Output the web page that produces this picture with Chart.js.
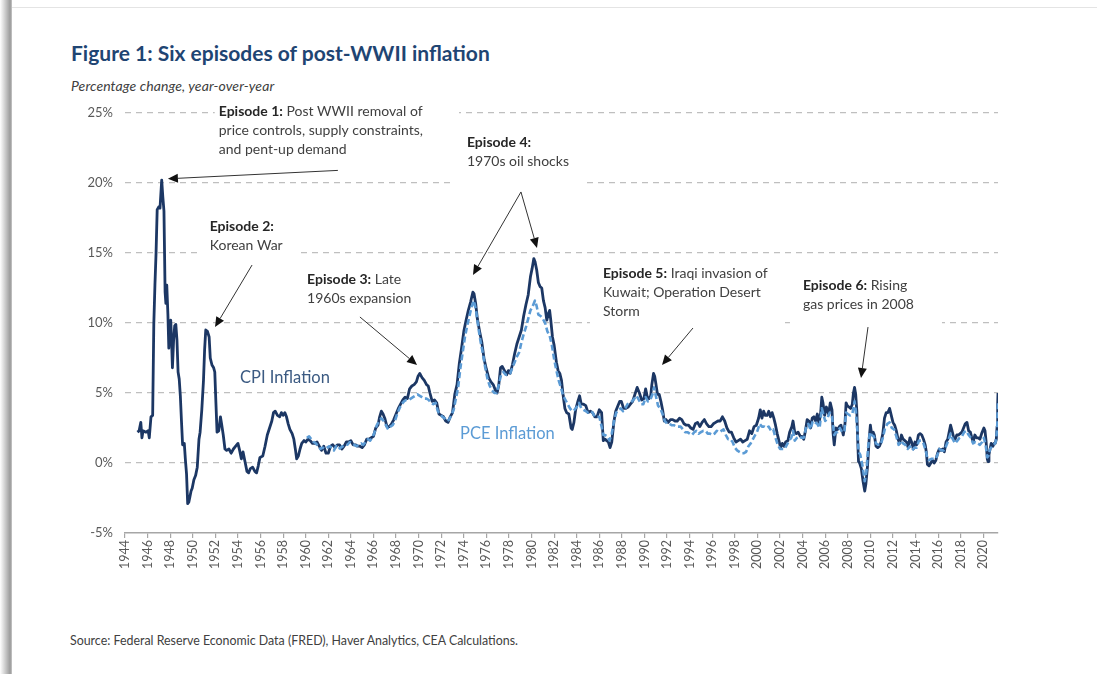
<!DOCTYPE html>
<html>
<head>
<meta charset="utf-8">
<script src="https://cdn.jsdelivr.net/npm/chart.js@4.4.0/dist/chart.umd.min.js"></script>
<style>
  html, body { margin: 0; padding: 0; background: #fff; }
  body { width: 1097px; height: 674px; position: relative; overflow: hidden; font-family: Lato, "Open Sans", sans-serif; }
  .edge { position: absolute; left: 0; top: 0; width: 12px; height: 674px; background: linear-gradient(to right, #fff 0%, #d0d0d0 40%, #9a9a9a 85%, #c8c8c8 100%); }
  .topedge { position: absolute; left: 12px; top: 7px; right: 0; height: 1px; background: #e4e4e4; }
  #title { position: absolute; left: 71px; top: 40px; font-size: 21px; font-weight: 700; color: #1f4573; white-space: nowrap; letter-spacing: 0px; }
  #subtitle { position: absolute; left: 71px; top: 77px; font-size: 14px; font-style: italic; color: #404040; white-space: nowrap; letter-spacing: 0.1px; }
  #source { position: absolute; left: 70px; top: 633px; font-size: 12.4px; color: #404040; white-space: nowrap; }
  canvas { position: absolute; left: 0; top: 0; }
</style>
</head>
<body>
<div class="edge"></div>
<div class="topedge"></div>
<div id="title">Figure 1: Six episodes of post-WWII inflation</div>
<div id="subtitle">Percentage change, year-over-year</div>
<div id="source">Source: Federal Reserve Economic Data (FRED), Haver Analytics, CEA Calculations.</div>
<canvas id="chart" width="1097" height="674"></canvas>
<script>
// ---- data ----
const xTickYears = [1944, 1946, 1948, 1950, 1952, 1954, 1956, 1958, 1960, 1962, 1964, 1966, 1968, 1970,
    1972, 1974, 1976, 1978, 1980, 1982, 1984, 1986, 1988, 1990, 1992, 1994, 1996, 1998, 2000, 2002,
    2004, 2006, 2008, 2010, 2012, 2014, 2016, 2018, 2020];
const yTickValues = [-5, 0, 5, 10, 15, 20, 25];

// CPI inflation, % y/y
const cpiDates = [
    1945.1, 1945.25, 1945.4, 1945.5, 1945.6, 1945.85, 1946.05, 1946.15, 1946.3, 1946.45,
    1946.55, 1946.65, 1946.75, 1946.85, 1947.0, 1947.1, 1947.25, 1947.35, 1947.45, 1947.55,
    1947.62, 1947.7, 1947.8, 1947.88, 1947.95, 1948.05, 1948.12, 1948.2, 1948.3, 1948.4,
    1948.5, 1948.6, 1948.7, 1948.8, 1948.9, 1949.0, 1949.1, 1949.25, 1949.35, 1949.45,
    1949.55, 1949.65, 1949.75, 1949.85, 1949.95, 1950.1, 1950.25, 1950.4, 1950.55, 1950.65,
    1950.8, 1950.95, 1951.05, 1951.15, 1951.3, 1951.45, 1951.55, 1951.7, 1951.85, 1951.95,
    1952.05, 1952.15, 1952.3, 1952.45, 1952.55, 1952.7, 1952.85, 1953.0, 1953.2, 1953.4,
    1953.6, 1953.8, 1954.0, 1954.15, 1954.3, 1954.45, 1954.6, 1954.8, 1954.95, 1955.1,
    1955.3, 1955.5, 1955.65, 1955.8, 1955.95, 1956.2, 1956.4, 1956.6, 1956.8, 1957.0,
    1957.15, 1957.3, 1957.5, 1957.7, 1957.85, 1958.0, 1958.15, 1958.3, 1958.45, 1958.6,
    1958.8, 1958.95, 1959.1, 1959.2, 1959.35, 1959.5, 1959.65, 1959.85, 1960.0, 1960.2,
    1960.4, 1960.6, 1960.8, 1961.0, 1961.2, 1961.4, 1961.6, 1961.8, 1962.0, 1962.2,
    1962.4, 1962.6, 1962.8, 1963.0, 1963.2, 1963.4, 1963.6, 1963.8, 1964.0, 1964.2,
    1964.4, 1964.6, 1964.8, 1965.0, 1965.2, 1965.4, 1965.6, 1965.8, 1966.0, 1966.2,
    1966.4, 1966.55, 1966.7, 1966.85, 1967.0, 1967.2, 1967.4, 1967.6, 1967.8, 1968.0,
    1968.2, 1968.4, 1968.6, 1968.8, 1969.0, 1969.2, 1969.4, 1969.6, 1969.8, 1969.95,
    1970.1, 1970.3, 1970.5, 1970.7, 1970.85, 1971.0, 1971.2, 1971.4, 1971.6, 1971.8,
    1972.0, 1972.2, 1972.4, 1972.6, 1972.8, 1973.0, 1973.2, 1973.4, 1973.6, 1973.8,
    1974.0, 1974.2, 1974.4, 1974.6, 1974.8, 1974.9, 1975.05, 1975.2, 1975.4, 1975.6,
    1975.8, 1976.0, 1976.2, 1976.4, 1976.6, 1976.8, 1976.95, 1977.1, 1977.25, 1977.4,
    1977.6, 1977.8, 1977.95, 1978.1, 1978.3, 1978.5, 1978.7, 1978.9, 1979.1, 1979.3,
    1979.5, 1979.7, 1979.9, 1980.05, 1980.2, 1980.3, 1980.45, 1980.6, 1980.75, 1980.9,
    1981.05, 1981.2, 1981.35, 1981.5, 1981.6, 1981.7, 1981.85, 1982.0, 1982.2, 1982.35,
    1982.5, 1982.65, 1982.8, 1982.95, 1983.1, 1983.3, 1983.5, 1983.6, 1983.75, 1983.9,
    1984.1, 1984.25, 1984.4, 1984.6, 1984.8, 1985.0, 1985.2, 1985.4, 1985.6, 1985.8,
    1986.0, 1986.2, 1986.35, 1986.5, 1986.65, 1986.8, 1986.95, 1987.1, 1987.3, 1987.45,
    1987.6, 1987.8, 1987.95, 1988.15, 1988.35, 1988.55, 1988.75, 1988.95, 1989.15, 1989.35,
    1989.55, 1989.75, 1989.95, 1990.1, 1990.25, 1990.4, 1990.55, 1990.65, 1990.8, 1990.9,
    1991.0, 1991.15, 1991.3, 1991.45, 1991.6, 1991.75, 1991.9, 1992.1, 1992.3, 1992.5,
    1992.7, 1992.9, 1993.1, 1993.3, 1993.5, 1993.7, 1993.9, 1994.1, 1994.3, 1994.5,
    1994.7, 1994.9, 1995.1, 1995.3, 1995.5, 1995.7, 1995.9, 1996.1, 1996.3, 1996.5,
    1996.7, 1996.9, 1997.1, 1997.3, 1997.5, 1997.7, 1997.9, 1998.1, 1998.3, 1998.5,
    1998.7, 1998.9, 1999.1, 1999.3, 1999.5, 1999.7, 1999.9, 2000.1, 2000.25, 2000.4,
    2000.55, 2000.7, 2000.85, 2001.0, 2001.15, 2001.3, 2001.45, 2001.6, 2001.75, 2001.9,
    2002.05, 2002.2, 2002.35, 2002.5, 2002.7, 2002.85, 2003.05, 2003.15, 2003.3, 2003.45,
    2003.6, 2003.8, 2003.95, 2004.1, 2004.25, 2004.4, 2004.55, 2004.7, 2004.85, 2005.0,
    2005.15, 2005.3, 2005.45, 2005.6, 2005.7, 2005.8, 2005.95, 2006.1, 2006.3, 2006.45,
    2006.6, 2006.7, 2006.8, 2006.95, 2007.1, 2007.25, 2007.4, 2007.6, 2007.75, 2007.85,
    2007.95, 2008.1, 2008.25, 2008.4, 2008.5, 2008.6, 2008.7, 2008.8, 2008.9, 2008.95,
    2009.05, 2009.2, 2009.35, 2009.5, 2009.6, 2009.75, 2009.9, 2010.0, 2010.1, 2010.25,
    2010.35, 2010.5, 2010.65, 2010.8, 2010.95, 2011.1, 2011.25, 2011.4, 2011.55, 2011.7,
    2011.85, 2012.0, 2012.15, 2012.3, 2012.45, 2012.6, 2012.75, 2012.9, 2013.05, 2013.2,
    2013.35, 2013.5, 2013.65, 2013.8, 2013.95, 2014.1, 2014.25, 2014.4, 2014.55, 2014.7,
    2014.85, 2014.95, 2015.05, 2015.2, 2015.35, 2015.5, 2015.65, 2015.8, 2015.95, 2016.1,
    2016.25, 2016.4, 2016.55, 2016.7, 2016.85, 2016.95, 2017.1, 2017.2, 2017.35, 2017.5,
    2017.65, 2017.8, 2017.95, 2018.1, 2018.25, 2018.4, 2018.55, 2018.7, 2018.85, 2018.95,
    2019.1, 2019.25, 2019.4, 2019.55, 2019.7, 2019.85, 2019.95, 2020.05, 2020.15, 2020.25,
    2020.35, 2020.42, 2020.5, 2020.6, 2020.7, 2020.85, 2020.95, 2021.05, 2021.15, 2021.22,
    2021.27, 2021.3
];
const cpiValues = [
    2.2, 2.3, 2.9, 1.8, 2.3, 2.2, 2.3, 1.8, 3.3, 3.4,
    9.9, 12.7, 15.0, 18.1, 18.3, 18.2, 20.2, 19.0, 18.0, 12.2,
    11.4, 12.7, 10.6, 8.2, 9.6, 10.2, 8.8, 6.8, 8.7, 9.8,
    9.9, 8.8, 6.5, 6.0, 4.8, 3.0, 1.3, 1.4, 0.2, -0.8,
    -2.9, -2.8, -2.4, -2.0, -1.8, -1.2, -0.9, -0.3, 1.7, 2.2,
    3.8, 5.9, 8.1, 9.5, 9.4, 9.0, 7.5, 7.0, 6.8, 6.5,
    4.3, 2.2, 2.3, 3.3, 2.8, 2.0, 1.0, 0.9, 1.0, 0.7,
    1.0, 1.2, 1.4, 0.9, 0.3, 0.8, 0.2, -0.6, -0.7, -0.4,
    -0.3, -0.6, -0.7, -0.2, 0.4, 0.5, 1.2, 2.0, 2.5, 3.0,
    3.6, 3.7, 3.4, 3.3, 3.6, 3.4, 3.6, 3.3, 2.8, 2.4,
    2.1, 1.7, 0.9, 0.3, 0.5, 1.0, 1.4, 1.6, 1.5, 1.7,
    1.6, 1.4, 1.4, 1.5, 1.2, 0.9, 1.2, 0.7, 0.7, 1.2,
    1.3, 1.1, 1.3, 1.3, 1.0, 1.2, 1.5, 1.5, 1.6, 1.3,
    1.3, 1.2, 1.2, 1.1, 1.3, 1.7, 1.7, 1.8, 1.9, 2.5,
    2.7, 3.3, 3.7, 3.5, 3.2, 2.6, 2.6, 2.8, 3.1, 3.5,
    3.9, 4.2, 4.5, 4.7, 4.6, 5.3, 5.5, 5.6, 5.8, 6.2,
    6.4, 6.1, 5.9, 5.6, 5.5, 5.0, 4.4, 4.5, 4.3, 3.5,
    3.4, 3.3, 3.0, 2.9, 3.3, 3.6, 4.9, 5.6, 7.1, 8.2,
    9.4, 10.2, 10.9, 11.5, 12.2, 12.1, 11.4, 10.3, 9.4, 8.6,
    7.4, 6.7, 6.1, 5.8, 5.6, 5.2, 5.0, 5.6, 6.8, 6.9,
    6.6, 6.3, 6.6, 6.4, 7.0, 7.8, 8.5, 9.0, 9.5, 10.5,
    11.3, 12.0, 13.3, 13.9, 14.6, 14.4, 13.8, 12.9, 12.6, 12.5,
    11.6, 11.1, 10.2, 10.7, 10.9, 10.2, 9.0, 8.4, 7.2, 6.6,
    6.4, 5.9, 4.8, 3.9, 3.6, 3.5, 2.5, 2.4, 2.9, 3.8,
    4.4, 4.8, 4.2, 4.2, 4.1, 3.6, 3.7, 3.6, 3.3, 3.3,
    3.8, 3.6, 1.6, 1.7, 1.6, 1.5, 1.1, 1.5, 3.0, 3.7,
    4.0, 4.4, 4.4, 3.9, 3.9, 4.0, 4.2, 4.4, 4.9, 5.4,
    5.0, 4.5, 4.6, 5.3, 4.7, 4.6, 4.8, 5.6, 6.4, 6.2,
    5.7, 4.9, 4.9, 4.4, 3.8, 3.0, 3.1, 2.9, 3.1, 3.1,
    3.0, 3.0, 3.2, 3.1, 2.8, 2.7, 2.7, 2.5, 2.4, 2.8,
    2.9, 2.6, 2.9, 3.1, 2.8, 2.6, 2.6, 2.8, 2.9, 3.0,
    3.0, 3.3, 3.0, 2.5, 2.2, 2.2, 1.8, 1.5, 1.6, 1.7,
    1.5, 1.6, 1.7, 2.3, 2.1, 2.6, 2.7, 3.2, 3.8, 3.2,
    3.7, 3.4, 3.4, 3.7, 3.3, 3.6, 3.2, 2.7, 2.1, 1.6,
    1.1, 1.4, 1.2, 1.5, 1.6, 2.2, 2.6, 3.0, 2.2, 2.1,
    2.2, 1.9, 1.9, 1.7, 2.3, 3.1, 3.0, 2.5, 3.2, 3.3,
    3.0, 3.5, 2.8, 3.6, 4.7, 4.3, 3.4, 4.0, 3.5, 4.3,
    3.8, 2.1, 1.3, 2.5, 2.4, 2.6, 2.7, 2.0, 2.8, 4.3,
    4.1, 4.0, 3.9, 4.2, 5.0, 5.4, 4.9, 3.7, 1.1, 0.1,
    0.0, -0.4, -1.3, -2.0, -1.5, -0.2, 1.8, 2.7, 2.1, 2.2,
    2.0, 1.2, 1.1, 1.2, 1.5, 2.1, 3.2, 3.6, 3.6, 3.9,
    3.4, 2.9, 2.7, 2.3, 1.7, 1.4, 2.0, 1.7, 1.6, 1.5,
    1.1, 1.8, 1.5, 1.0, 1.5, 1.3, 2.0, 2.1, 2.0, 1.7,
    1.3, 0.8, -0.1, -0.2, 0.0, 0.2, 0.0, 0.2, 0.7, 1.0,
    0.9, 1.0, 0.8, 1.5, 1.7, 2.1, 2.7, 2.4, 1.9, 1.7,
    2.0, 2.0, 2.1, 2.2, 2.5, 2.8, 2.9, 2.3, 2.2, 1.9,
    1.5, 2.0, 1.8, 1.8, 1.7, 2.1, 2.3, 2.5, 2.3, 1.5,
    0.3, 0.1, 0.6, 1.0, 1.4, 1.2, 1.4, 1.4, 1.7, 2.6,
    4.2, 5.0
];

// PCE inflation, % y/y
const pceDates = [
    1960.1, 1960.3, 1960.5, 1960.7, 1960.9, 1961.1, 1961.3, 1961.5, 1961.7, 1961.9,
    1962.1, 1962.3, 1962.5, 1962.7, 1962.9, 1963.1, 1963.3, 1963.5, 1963.7, 1963.9,
    1964.1, 1964.3, 1964.5, 1964.7, 1964.9, 1965.1, 1965.3, 1965.5, 1965.7, 1965.9,
    1966.1, 1966.3, 1966.5, 1966.7, 1966.9, 1967.1, 1967.3, 1967.5, 1967.7, 1967.9,
    1968.1, 1968.3, 1968.5, 1968.7, 1968.9, 1969.1, 1969.3, 1969.5, 1969.7, 1969.9,
    1970.1, 1970.3, 1970.5, 1970.7, 1970.9, 1971.1, 1971.3, 1971.5, 1971.7, 1971.9,
    1972.1, 1972.3, 1972.5, 1972.7, 1972.9, 1973.1, 1973.3, 1973.5, 1973.7, 1973.9,
    1974.1, 1974.3, 1974.5, 1974.7, 1974.9, 1975.1, 1975.3, 1975.5, 1975.7, 1975.9,
    1976.1, 1976.3, 1976.5, 1976.7, 1976.9, 1977.1, 1977.3, 1977.5, 1977.7, 1977.9,
    1978.1, 1978.3, 1978.5, 1978.7, 1978.9, 1979.1, 1979.3, 1979.5, 1979.7, 1979.9,
    1980.1, 1980.3, 1980.45, 1980.6, 1980.8, 1981.0, 1981.2, 1981.4, 1981.6, 1981.8,
    1982.0, 1982.2, 1982.4, 1982.6, 1982.8, 1983.0, 1983.2, 1983.4, 1983.6, 1983.8,
    1984.0, 1984.2, 1984.4, 1984.6, 1984.8, 1985.0, 1985.2, 1985.4, 1985.6, 1985.8,
    1986.0, 1986.2, 1986.35, 1986.5, 1986.7, 1986.9, 1987.1, 1987.3, 1987.5, 1987.7,
    1987.9, 1988.1, 1988.3, 1988.5, 1988.7, 1988.9, 1989.1, 1989.3, 1989.5, 1989.7,
    1989.9, 1990.1, 1990.3, 1990.5, 1990.7, 1990.85, 1991.0, 1991.2, 1991.4, 1991.6,
    1991.8, 1992.0, 1992.2, 1992.4, 1992.6, 1992.8, 1993.0, 1993.2, 1993.4, 1993.6,
    1993.8, 1994.0, 1994.2, 1994.4, 1994.6, 1994.8, 1995.0, 1995.2, 1995.4, 1995.6,
    1995.8, 1996.0, 1996.2, 1996.4, 1996.6, 1996.8, 1997.0, 1997.2, 1997.4, 1997.6,
    1997.8, 1998.0, 1998.2, 1998.4, 1998.6, 1998.8, 1999.0, 1999.2, 1999.4, 1999.6,
    1999.8, 2000.0, 2000.2, 2000.4, 2000.6, 2000.8, 2001.0, 2001.2, 2001.4, 2001.6,
    2001.8, 2002.0, 2002.2, 2002.4, 2002.6, 2002.8, 2003.0, 2003.15, 2003.3, 2003.5,
    2003.7, 2003.9, 2004.1, 2004.3, 2004.5, 2004.7, 2004.9, 2005.1, 2005.3, 2005.5,
    2005.7, 2005.8, 2006.0, 2006.2, 2006.4, 2006.6, 2006.8, 2006.95, 2007.1, 2007.3,
    2007.5, 2007.7, 2007.85, 2008.0, 2008.2, 2008.4, 2008.6, 2008.7, 2008.85, 2008.95,
    2009.1, 2009.3, 2009.5, 2009.65, 2009.8, 2009.95, 2010.1, 2010.3, 2010.5, 2010.7,
    2010.9, 2011.1, 2011.3, 2011.5, 2011.7, 2011.9, 2012.1, 2012.3, 2012.5, 2012.7,
    2012.9, 2013.1, 2013.3, 2013.5, 2013.7, 2013.9, 2014.1, 2014.3, 2014.5, 2014.7,
    2014.9, 2015.05, 2015.2, 2015.4, 2015.6, 2015.8, 2015.95, 2016.1, 2016.3, 2016.5,
    2016.7, 2016.9, 2017.1, 2017.3, 2017.5, 2017.7, 2017.9, 2018.1, 2018.3, 2018.5,
    2018.7, 2018.9, 2019.1, 2019.3, 2019.5, 2019.7, 2019.9, 2020.05, 2020.2, 2020.35,
    2020.45, 2020.6, 2020.8, 2020.95, 2021.1, 2021.22, 2021.3
];
const pceValues = [
    1.8, 1.9, 1.7, 1.5, 1.4, 1.2, 1.0, 1.1, 1.0, 1.1,
    1.2, 1.1, 0.9, 1.2, 1.0, 1.1, 1.2, 1.3, 1.3, 1.5,
    1.4, 1.3, 1.2, 1.3, 1.4, 1.3, 1.5, 1.7, 1.6, 1.8,
    2.2, 2.7, 3.0, 3.2, 3.0, 2.7, 2.4, 2.6, 2.7, 3.0,
    3.5, 3.9, 4.2, 4.4, 4.5, 4.5, 4.6, 4.7, 4.8, 4.9,
    4.8, 4.7, 4.6, 4.6, 4.5, 4.3, 4.2, 4.3, 3.7, 3.5,
    3.3, 3.2, 3.0, 3.1, 3.4, 3.8, 4.6, 5.4, 6.8, 7.9,
    9.0, 9.8, 10.5, 11.2, 11.6, 10.8, 9.6, 8.6, 7.8, 6.8,
    6.0, 5.5, 5.2, 5.0, 5.0, 5.6, 6.3, 6.5, 6.3, 6.3,
    6.4, 6.8, 7.2, 7.6, 7.9, 8.6, 9.2, 9.7, 10.3, 10.9,
    11.2, 11.6, 11.2, 10.6, 10.5, 10.3, 10.0, 9.4, 9.1, 8.4,
    7.4, 6.6, 5.9, 5.4, 4.8, 4.5, 4.2, 3.9, 3.7, 3.8,
    4.0, 4.3, 3.9, 3.8, 3.7, 3.6, 3.7, 3.6, 3.3, 3.3,
    3.3, 2.6, 2.0, 2.0, 1.9, 1.6, 2.1, 3.0, 3.6, 3.8,
    3.9, 3.7, 3.9, 4.2, 4.3, 4.4, 4.6, 4.8, 4.5, 4.2,
    4.2, 4.7, 4.4, 4.5, 4.9, 5.4, 4.8, 4.1, 3.9, 3.5,
    3.0, 2.8, 2.8, 2.7, 2.7, 2.6, 2.6, 2.6, 2.4, 2.2,
    2.2, 2.1, 2.0, 2.2, 2.3, 2.1, 2.2, 2.3, 2.3, 2.1,
    2.1, 2.0, 2.1, 2.3, 2.2, 2.3, 2.4, 2.0, 1.7, 1.7,
    1.5, 1.1, 0.9, 0.8, 0.7, 0.7, 0.8, 1.2, 1.4, 1.7,
    2.0, 2.3, 2.8, 2.6, 2.6, 2.5, 2.6, 2.3, 2.4, 1.8,
    1.3, 1.0, 1.0, 1.0, 1.3, 1.6, 1.8, 2.3, 1.6, 1.8,
    1.9, 1.8, 1.8, 2.5, 2.8, 2.4, 3.0, 2.9, 2.8, 2.5,
    3.9, 3.6, 3.0, 3.2, 3.6, 3.3, 2.0, 2.2, 2.2, 2.5,
    2.2, 2.3, 3.6, 3.5, 3.4, 3.5, 4.4, 3.8, 2.3, 0.8,
    0.6, -0.2, -1.3, -0.6, 1.1, 2.2, 2.0, 1.9, 1.4, 1.3,
    1.3, 1.8, 2.5, 2.8, 2.9, 2.5, 2.4, 1.9, 1.3, 1.6,
    1.4, 1.3, 1.0, 1.2, 0.9, 1.1, 1.1, 1.6, 1.6, 1.4,
    0.9, 0.3, 0.2, 0.3, 0.3, 0.3, 0.6, 1.0, 0.9, 0.9,
    1.2, 1.6, 2.1, 1.7, 1.4, 1.6, 1.8, 1.9, 2.2, 2.3,
    2.0, 1.8, 1.4, 1.5, 1.4, 1.3, 1.5, 1.8, 1.3, 0.4,
    0.5, 1.0, 1.2, 1.3, 1.5, 2.4, 4.3
];

if (cpiDates.length !== cpiValues.length) console.warn('cpi length mismatch', cpiDates.length, cpiValues.length);
if (pceDates.length !== pceValues.length) console.warn('pce length mismatch', pceDates.length, pceValues.length);

// ---- annotations (anchored in data units) ----
const episodes = [
    { head: 'Episode 1:', lines: [' Post WWII removal of', 'price controls, supply constraints,', 'and pent-up demand'],
      at: [1952.3, 25.1], pad: [4, 36, 3, 3], arrows: [[1962.85, 20.9, 1947.8, 20.3]] },
    { head: 'Episode 2:', lines: ['', 'Korean War'],
      at: [1951.5, 16.86], pad: [10, 15, 3, 6], arrows: [[1955.25, 14.14, 1951.97, 9.71]] },
    { head: 'Episode 3:', lines: [' Late', '1960s expansion'],
      at: [1960.12, 13.14], pad: [4, 4, 3, 3], arrows: [[1964.8, 10.43, 1969.86, 7.0]] },
    { head: 'Episode 4:', lines: ['', '1970s oil shocks'],
      at: [1974.28, 22.86], pad: [15, 18, 3, 14], arrows: [[1979.06, 19.36, 1974.81, 13.43], [1979.06, 19.36, 1980.48, 15.36]] },
    { head: 'Episode 5:', lines: [' Iraqi invasion of', 'Kuwait; Operation Desert', 'Storm'],
      at: [1986.32, 13.57], pad: [13, 13, 3, 9], arrows: [[1994.29, 9.64, 1991.55, 7.0]] },
    { head: 'Episode 6:', lines: [' Rising', 'gas prices in 2008'],
      at: [2004.03, 12.71], pad: [13, 28, 3, 12], arrows: [[2009.79, 9.71, 2009.17, 6.07]] }
];
const seriesLabels = [
    { text: 'CPI Inflation', at: [1954.18, 6.07], color: '#3b5a82' },
    { text: 'PCE Inflation', at: [1973.66, 2.07], color: '#5b9bd5' }
];

const FONT = 'Lato, "Open Sans", sans-serif';
const NOTE_SIZE = 14, NOTE_LH = 19;

function drawArrow(ctx, x1, y1, x2, y2) {
    const ang = Math.atan2(y2 - y1, x2 - x1), L = 10, W = 4.5;
    const bx = x2 - L * Math.cos(ang), by = y2 - L * Math.sin(ang);
    ctx.beginPath(); ctx.moveTo(x1, y1); ctx.lineTo(bx, by); ctx.stroke();
    ctx.beginPath();
    ctx.moveTo(x2, y2);
    ctx.lineTo(bx + W * Math.sin(ang), by - W * Math.cos(ang));
    ctx.lineTo(bx - W * Math.sin(ang), by + W * Math.cos(ang));
    ctx.closePath(); ctx.fill();
}

const episodePlugin = {
    id: 'episodes',
    beforeDatasetsDraw(chart) {
        const { ctx, scales: { x, y } } = chart;
        ctx.save();
        const bold = `700 ${NOTE_SIZE}px ${FONT}`, reg = `400 ${NOTE_SIZE}px ${FONT}`;
        episodes.forEach(ep => {
            const px = x.getPixelForValue(ep.at[0]), py = y.getPixelForValue(ep.at[1]);
            ctx.font = bold; const headW = ctx.measureText(ep.head).width;
            ctx.font = reg;
            let maxW = 0;
            ep.lines.forEach((t, i) => { maxW = Math.max(maxW, ctx.measureText(t).width + (i === 0 ? headW : 0)); });
            const [pl, pr, pt, pb] = ep.pad;
            ctx.fillStyle = '#fff';
            ctx.fillRect(px - pl, py - NOTE_LH / 2 - pt, maxW + pl + pr, ep.lines.length * NOTE_LH + pt + pb);
            ctx.textBaseline = 'middle'; ctx.textAlign = 'left';
            ep.lines.forEach((t, i) => {
                const ly = py + i * NOTE_LH;
                let lx = px;
                if (i === 0) { ctx.font = bold; ctx.fillStyle = '#262626'; ctx.fillText(ep.head, lx, ly); lx += headW; }
                ctx.font = reg; ctx.fillStyle = '#404040'; ctx.fillText(t, lx, ly);
            });
        });
        ctx.restore();
    },
    afterDatasetsDraw(chart) {
        const { ctx, scales: { x, y } } = chart;
        ctx.save();
        ctx.strokeStyle = '#333'; ctx.fillStyle = '#111'; ctx.lineWidth = 1;
        episodes.forEach(ep => ep.arrows.forEach(a => {
            drawArrow(ctx, x.getPixelForValue(a[0]), y.getPixelForValue(a[1]), x.getPixelForValue(a[2]), y.getPixelForValue(a[3]));
        }));
        ctx.font = `400 16.5px ${FONT}`; ctx.textBaseline = 'middle'; ctx.textAlign = 'left';
        seriesLabels.forEach(s => { ctx.fillStyle = s.color; ctx.fillText(s.text, x.getPixelForValue(s.at[0]), y.getPixelForValue(s.at[1])); });
        ctx.restore();
    }
};

(function () {
    const canvas = document.getElementById('chart');
    if (!canvas || typeof Chart === 'undefined') return;
    new Chart(canvas.getContext('2d'), {
        type: 'line',
        data: {
            datasets: [
                { label: 'PCE Inflation', data: pceDates.map((d, i) => ({ x: d, y: pceValues[i] })),
                  borderColor: '#5b9bd5', borderWidth: 2.6, borderDash: [6, 3], borderJoinStyle: 'round',
                  pointRadius: 0, tension: 0, fill: false },
                { label: 'CPI Inflation', data: cpiDates.map((d, i) => ({ x: d, y: cpiValues[i] })),
                  borderColor: '#1c3764', borderWidth: 2.8, borderJoinStyle: 'round',
                  pointRadius: 0, tension: 0, fill: false }
            ]
        },
        options: {
            responsive: false, animation: false, events: [],
            layout: { padding: { left: 60, top: 113, right: 99, bottom: 91 } },
            plugins: { legend: { display: false }, tooltip: { enabled: false } },
            scales: {
                x: {
                    type: 'linear', min: 1944, max: 2021.3,
                    afterBuildTicks: s => { s.ticks = xTickYears.map(v => ({ value: v })); },
                    afterFit: s => { s.height = 50; },
                    ticks: { autoSkip: false, minRotation: 90, maxRotation: 90, padding: 2, color: '#595959',
                             font: { family: FONT, size: 12.5 }, callback: v => String(v) },
                    grid: { display: true, drawOnChartArea: false, drawTicks: true, tickLength: 5, color: '#a6a6a6', lineWidth: 1.2 },
                    border: { display: true, color: '#a6a6a6', width: 1.5 }
                },
                y: {
                    min: -5, max: 25,
                    afterBuildTicks: s => { s.ticks = yTickValues.map(v => ({ value: v })); },
                    afterFit: s => { s.width = 65; },
                    ticks: { padding: 12, color: '#595959', font: { family: FONT, size: 13 }, callback: v => v + '%' },
                    grid: { drawTicks: false, lineWidth: 1.2, color: c => (c.tick && c.tick.value === -5) ? 'rgba(0,0,0,0)' : '#bfbfbf' },
                    border: { display: false, dash: [6, 5] }
                }
            }
        },
        plugins: [episodePlugin]
    });
})();
</script>
</body>
</html>
